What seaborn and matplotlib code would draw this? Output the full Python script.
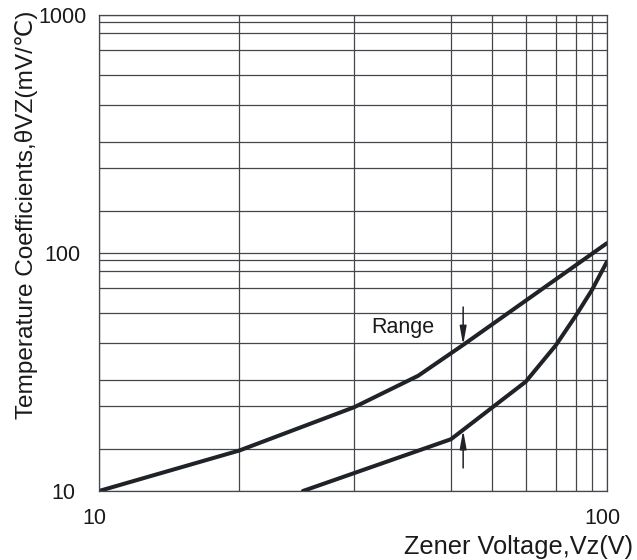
import numpy as np
import pandas as pd
import matplotlib
matplotlib.use("Agg")
import matplotlib.pyplot as plt
import matplotlib.ticker as mticker
from matplotlib.transforms import ScaledTranslation
import seaborn as sns

# curve data (Vz in V, theta_VZ in mV/C)
upper_vz = [10, 18.9, 31.8, 42.5, 52.1, 100]
upper_tc = [10, 14.8, 22.5, 30.5, 41.1, 110]
lower_vz = [25.2, 49.3, 69.2, 79.4, 86.9, 93.4, 100]
lower_tc = [10, 16.5, 28.8, 41.1, 54.7, 69.9, 92]

# grid positions of the printed chart (not evenly spaced in the source)
x_grid = [18.9, 31.8, 49.3, 59.4, 69.3, 79.4, 86.9, 93.4]
y_grid_dec = [1.5, 2.28, 2.93, 4.2, 5.6, 7.15, 8.4, 9.37]
x_ticks = [10, 100]
y_ticks = [10, 100, 1000]

# arrows marking the range
arrow_x = 52.1
arrow_top = (59.3, 41.1)
arrow_bot = (12.5, 18.0)
range_label = "Range"

sns.set_style("white")
plt.rcParams["font.family"] = ["Liberation Sans", "DejaVu Sans"]

ink = "#1f2227"
grid_col = "#43464b"

fig = plt.figure(figsize=(6.37, 5.6), dpi=100)
ax = fig.add_axes([99 / 637, 1 - 491 / 560, 508 / 637, 476 / 560])

df = pd.concat([
    pd.DataFrame({"vz": upper_vz, "tc": upper_tc, "curve": "max"}),
    pd.DataFrame({"vz": lower_vz, "tc": lower_tc, "curve": "min"}),
])
sns.lineplot(data=df, x="vz", y="tc", units="curve", estimator=None, sort=False,
             color=ink, linewidth=2.9, ax=ax, legend=False)

ax.set_xscale("log")
ax.set_yscale("log")
ax.set_xlim(10, 100)
ax.set_ylim(10, 1000)

ax.xaxis.set_major_locator(mticker.FixedLocator(x_ticks))
ax.xaxis.set_minor_locator(mticker.FixedLocator(x_grid))
ax.yaxis.set_major_locator(mticker.FixedLocator(y_ticks))
ax.yaxis.set_minor_locator(mticker.FixedLocator(
    [d * m for d in (10, 100) for m in y_grid_dec]))
ax.xaxis.set_major_formatter(mticker.FixedFormatter([str(t) for t in x_ticks]))
ax.yaxis.set_major_formatter(mticker.FixedFormatter([str(t) for t in y_ticks]))
ax.xaxis.set_minor_formatter(mticker.NullFormatter())
ax.yaxis.set_minor_formatter(mticker.NullFormatter())

ax.grid(True, which="both", color=grid_col, linewidth=0.9)
for s in ax.spines.values():
    s.set_color(grid_col)
    s.set_linewidth(0.9)

ax.tick_params(which="both", length=0, labelsize=15.5, colors="#1a1a1a")
ax.tick_params(axis="x", pad=12)
ax.tick_params(axis="y", pad=26)
for lab in ax.get_yticklabels():
    lab.set_horizontalalignment("center")
for lab in ax.get_xticklabels():
    lab.set_transform(lab.get_transform() + ScaledTranslation(-5 / 100, 0, fig.dpi_scale_trans))

ax.set_xlabel("Zener Voltage,Vz(V)", fontsize=18.3, color="#1a1a1a")
ax.xaxis.set_label_coords(0.826, -0.1314)
ax.xaxis.label.set_verticalalignment("baseline")
ax.set_ylabel("Temperature Coefficients,θVZ(mV/℃)", fontsize=17.6, color="#1a1a1a")
ax.yaxis.set_label_coords(-0.142, 0.58)
ax.yaxis.label.set_verticalalignment("center")

arrow_kw = dict(arrowstyle="-|>,head_length=0.55,head_width=0.1",
                color=ink, lw=1.1, shrinkA=0, shrinkB=0, mutation_scale=20)
ax.annotate("", xy=(arrow_x, arrow_top[1]), xytext=(arrow_x, arrow_top[0]),
            arrowprops=arrow_kw)
ax.annotate("", xy=(arrow_x, arrow_bot[1]), xytext=(arrow_x, arrow_bot[0]),
            arrowprops=arrow_kw)
ax.text(39.6, 48.5, range_label, fontsize=15.5, ha="center", va="center",
        color="#1a1a1a")

fig.savefig("out.png", dpi=100)
